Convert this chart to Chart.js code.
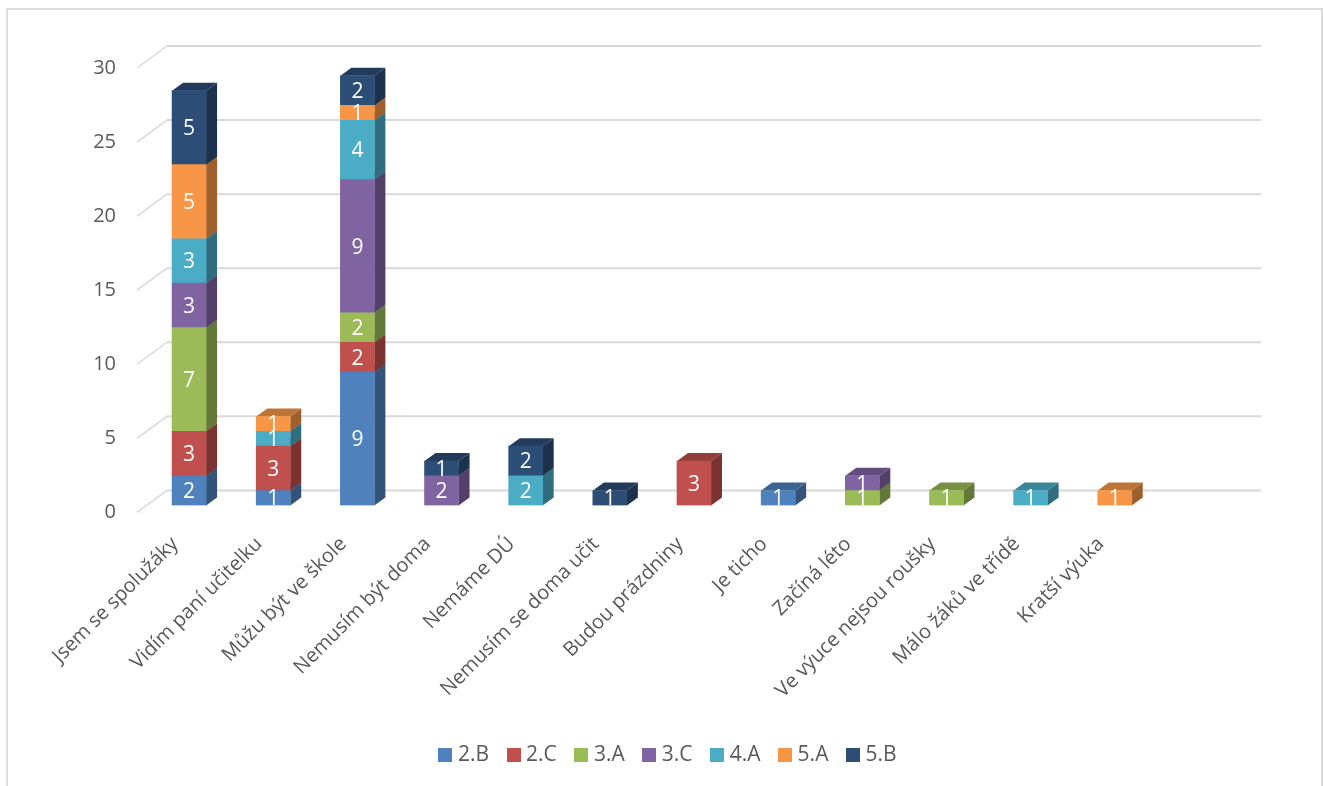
<!DOCTYPE html>
<html>
<head>
<meta charset="utf-8">
<style>
  body { margin: 0; background: #fff; overflow: hidden; }
  #frame { position: absolute; left: 6px; top: 8px; width: 1313px; height: 800px; border: 2px solid #dcdcdc; }
  canvas { position: absolute; left: 0; top: 0; display: block; }
</style>
<script src="https://cdn.jsdelivr.net/npm/chart.js@4/dist/chart.umd.min.js"></script>
</head>
<body>
<div id="frame"></div>
<canvas id="chart" width="1323" height="786"></canvas>
<script>
// ── Data ────────────────────────────────────
const CATEGORIES = ["Jsem se spolužáky", "Vidím paní učitelku", "Můžu být ve škole", "Nemusím být doma", "Nemáme DÚ", "Nemusím se doma učit", "Budou prázdniny", "Je ticho", "Začíná léto", "Ve výuce nejsou roušky", "Málo žáků ve třídě", "Kratší výuka", ""];
const B2 = [2, 1, 9, null, null, null, null, 1, null, null, null, null, null];
const C2 = [3, 3, 2, null, null, null, 3, null, null, null, null, null, null];
const A3 = [7, null, 2, null, null, null, null, null, 1, 1, null, null, null];
const C3 = [3, null, 9, 2, null, null, null, null, 1, null, null, null, null];
const A4 = [3, 1, 4, null, 2, null, null, null, null, null, 1, null, null];
const A5 = [5, 1, 1, null, null, null, null, null, null, null, null, 1, null];
const B5 = [5, null, 2, 1, 2, 1, null, null, null, null, null, null, null];

const COLORS = ["#4f81bd", "#c0504d", "#9bbb59", "#8064a2", "#4bacc6", "#f79646", "#2c4d75"];
const TEXT = "#595959";
const FONT = "'Open Sans', sans-serif";

const WALL = { dx: 30, dy: -22 }; // back wall offset from the front tick plane
const BAR_SHIFT = { x: 10, y: -7 }; // bars stand inside the floor
const BAR_DEPTH = { dx: 11, dy: -8 };

function shade(hex, k) {
  const n = parseInt(hex.slice(1), 16);
  return `rgb(${((n >> 16) & 255) * k},${((n >> 8) & 255) * k},${(n & 255) * k})`;
}

function poly(ctx, pts, fill) {
  ctx.fillStyle = fill;
  ctx.beginPath();
  pts.forEach((p, i) => (i ? ctx.lineTo(p[0], p[1]) : ctx.moveTo(p[0], p[1])));
  ctx.closePath();
  ctx.fill();
}

// 14px legend square, used as a point style so the text can sit closer to it
function swatch(color) {
  const c = document.createElement("canvas");
  c.width = 14;
  c.height = 14;
  const g = c.getContext("2d");
  g.fillStyle = color;
  g.fillRect(0, 0, 14, 14);
  return c;
}

// Walls, gridlines and the side/top faces of the columns
const fake3d = {
  id: "fake3d",
  afterLayout(chart) {
    // legend sits slightly right of the canvas centre in the original
    chart.legend.left = 0;
    chart.legend.right = 1340;
    chart.legend.top = 722;
  },
  beforeDatasetsDraw(chart) {
    const { ctx, scales } = chart;
    const area = chart.chartArea;
    ctx.save();
    ctx.strokeStyle = "#d9d9d9";
    scales.y.ticks.forEach((tick) => {
      const y = scales.y.getPixelForValue(tick.value);
      ctx.lineWidth = 1.5;
      ctx.beginPath();
      ctx.moveTo(area.left, y);
      ctx.lineTo(area.left + WALL.dx, y + WALL.dy);
      ctx.stroke();
      ctx.lineWidth = 2;
      ctx.beginPath();
      ctx.moveTo(area.left + WALL.dx, y + WALL.dy);
      ctx.lineTo(area.right + WALL.dx, y + WALL.dy);
      ctx.stroke();
    });
    ctx.restore();

    ctx.save();
    ctx.translate(BAR_SHIFT.x, BAR_SHIFT.y);
    chart.data.datasets.forEach((ds, i) => {
      chart.getDatasetMeta(i).data.forEach((bar, j) => {
        if (ds.data[j] === null) return;
        const r = bar.x + bar.width / 2;
        const l = bar.x - bar.width / 2;
        const { dx, dy } = BAR_DEPTH;
        poly(ctx, [[r, bar.base], [r, bar.y], [r + dx, bar.y + dy], [r + dx, bar.base + dy]], shade(ds.backgroundColor, 0.64));
        poly(ctx, [[l, bar.y], [r, bar.y], [r + dx, bar.y + dy], [l + dx, bar.y + dy]], shade(ds.backgroundColor, 0.77));
      });
    });
    // stays translated so the library's fronts land on the same spot
  },
  afterDatasetsDraw(chart) {
    const { ctx } = chart;
    ctx.font = "21px " + FONT;
    ctx.fillStyle = "#ffffff";
    ctx.textAlign = "center";
    ctx.textBaseline = "middle";
    chart.data.datasets.forEach((ds, i) => {
      chart.getDatasetMeta(i).data.forEach((bar, j) => {
        if (ds.data[j] === null) return;
        ctx.fillText(String(ds.data[j]), bar.x, (bar.y + bar.base) / 2 + 1.5);
      });
    });
    ctx.restore();
  },
};

const SERIES = [["2.B", B2], ["2.C", C2], ["3.A", A3], ["3.C", C3], ["4.A", A4], ["5.A", A5], ["5.B", B5]];

new Chart(document.getElementById("chart"), {
  type: "bar",
  data: {
    labels: CATEGORIES,
    datasets: SERIES.map(([label, data], i) => ({
      label,
      data,
      backgroundColor: COLORS[i],
      borderWidth: 0,
      barThickness: 34,
    })),
  },
  plugins: [fake3d],
  options: {
    responsive: false,
    animation: false,
    layout: { padding: { top: 68, left: 7, right: 92, bottom: 0 } },
    plugins: {
      tooltip: { enabled: false },
      legend: {
        position: "bottom",
        labels: {
          usePointStyle: true,
          pointStyleWidth: 4,
          boxHeight: 14,
          padding: 22.6,
          color: TEXT,
          font: { size: 21, family: FONT },
          generateLabels: (chart) =>
            chart.data.datasets.map((ds, i) => ({
              text: ds.label,
              pointStyle: swatch(ds.backgroundColor),
              fontColor: TEXT,
              datasetIndex: i,
            })),
        },
      },
    },
    scales: {
      x: {
        stacked: true,
        border: { display: false },
        grid: { display: false },
        afterFit(scale) {
          scale.height = 220;
        },
        ticks: {
          autoSkip: false,
          minRotation: 45,
          maxRotation: 45,
          padding: 12,
          labelOffset: -4,
          color: TEXT,
          font: { size: 20, family: FONT },
        },
      },
      y: {
        stacked: true,
        min: 0,
        max: 30,
        border: { display: false },
        grid: { display: false, drawTicks: false },
        afterFit(scale) {
          scale.width = 130;
        },
        ticks: { stepSize: 5, padding: 21, color: TEXT, font: { size: 20, family: FONT } },
      },
    },
  },
});
</script>
</body>
</html>
